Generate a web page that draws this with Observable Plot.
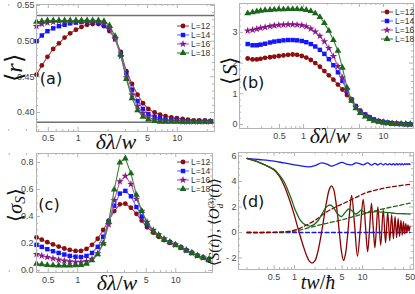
<!DOCTYPE html>
<html><head><meta charset="utf-8">
<script src="https://cdn.jsdelivr.net/npm/d3@7"></script>
<script src="https://cdn.jsdelivr.net/npm/@observablehq/plot@0.6"></script>
<style>
html,body{margin:0;padding:0;background:#fff;}
#fig{position:relative;width:415px;height:294px;overflow:hidden;background:#fff;}
.panel{position:absolute;}
.panel svg{display:block;max-width:none;}
.t{position:absolute;white-space:nowrap;line-height:1;color:#111;}
.ser{font-family:"Liberation Serif","DejaVu Serif",serif;}
.rot{transform:translate(-50%,-50%) rotate(-90deg);}
.ctr{transform:translate(-50%,-50%);}
.plab{font-family:"DejaVu Sans",sans-serif;font-size:16px;}
.leg{position:absolute;font-family:"Liberation Sans",sans-serif;font-size:8.5px;color:#333;}
.leg div{height:9px;display:flex;align-items:center;}
.leg svg{margin-right:2px;}
.br{font-family:"DejaVu Sans",sans-serif;font-weight:200;}
</style></head><body><div id="fig"></div>
<script>
// ---------- data ----------
const seriesNames = ["L=12", "L=14", "L=16", "L=18"];
const dl = [0.2,0.23,0.26,0.29,0.33,0.38,0.43,0.49,0.56,0.64,0.73,0.83,0.95,1.08,1.23,1.4,1.6,1.82,2.07,2.36,2.69,3.06,3.49,3.97,4.5,5.1,5.9,6.7,7.6,8.7,9.9,11.3,12.8,14.6,16.6,19,21.6];
const dlAC = dl.slice(5);

// (a) <r>
const rL12 = [0.453,0.466,0.478,0.489,0.497,0.505,0.511,0.516,0.520,0.523,0.524,0.524,0.521,0.514,0.503,0.485,0.458,0.440,0.425,0.413,0.405,0.400,0.397,0.395,0.393,0.392,0.391,0.390,0.389,0.389,0.389,0.388];
const rL14 = [0.500,0.508,0.514,0.518,0.521,0.523,0.525,0.526,0.527,0.527,0.527,0.526,0.523,0.516,0.503,0.482,0.455,0.432,0.416,0.405,0.398,0.394,0.392,0.390,0.389,0.389,0.388,0.388,0.388,0.388,0.388,0.388];
const rL16 = [0.521,0.524,0.526,0.527,0.528,0.528,0.528,0.528,0.528,0.528,0.528,0.527,0.525,0.518,0.503,0.479,0.449,0.425,0.409,0.399,0.393,0.390,0.389,0.388,0.388,0.388,0.387,0.387,0.387,0.387,0.387,0.387];
const rL18 = [0.527,0.528,0.529,0.529,0.529,0.529,0.529,0.529,0.529,0.529,0.529,0.529,0.528,0.522,0.507,0.481,0.447,0.420,0.403,0.394,0.390,0.388,0.387,0.387,0.387,0.387,0.387,0.387,0.387,0.387,0.387,0.387];
const rRef = [0.536, 0.3863];

// (b) <S>
const S12 = [2.15,2.12,2.12,2.14,2.17,2.19,2.21,2.23,2.25,2.27,2.28,2.27,2.23,2.18,2.1,2.0,1.88,1.74,1.6,1.46,1.3,1.14,0.96,0.78,0.6,0.45,0.33,0.24,0.17,0.12,0.09,0.06,0.045,0.03,0.02,0.015,0.01];
const S14 = [2.62,2.58,2.58,2.6,2.63,2.67,2.7,2.72,2.74,2.75,2.75,2.74,2.72,2.68,2.62,2.54,2.43,2.3,2.13,1.93,1.7,1.42,1.08,0.82,0.6,0.44,0.32,0.23,0.16,0.11,0.08,0.06,0.04,0.03,0.02,0.015,0.01];
const S16 = [3.05,3.08,3.11,3.14,3.17,3.2,3.22,3.24,3.25,3.26,3.26,3.25,3.23,3.19,3.12,3.02,2.88,2.7,2.48,2.22,1.9,1.52,1.12,0.8,0.57,0.41,0.29,0.2,0.14,0.1,0.07,0.05,0.035,0.025,0.018,0.012,0.008];
const S18 = [3.62,3.65,3.68,3.7,3.72,3.73,3.74,3.75,3.75,3.76,3.76,3.76,3.75,3.73,3.69,3.62,3.5,3.3,3.05,2.75,2.4,1.85,1.2,0.78,0.53,0.37,0.26,0.18,0.12,0.085,0.06,0.04,0.03,0.02,0.015,0.01,0.008];

// (c) <sigma_S>
const sig12 = [0.245,0.228,0.21,0.193,0.177,0.163,0.152,0.145,0.145,0.16,0.19,0.235,0.3,0.37,0.44,0.49,0.495,0.465,0.42,0.37,0.32,0.28,0.25,0.225,0.205,0.19,0.17,0.15,0.13,0.11,0.095,0.08];
const sig14 = [0.19,0.175,0.158,0.143,0.13,0.118,0.108,0.102,0.1,0.108,0.13,0.175,0.25,0.36,0.48,0.57,0.59,0.55,0.47,0.4,0.34,0.29,0.26,0.23,0.21,0.19,0.17,0.15,0.13,0.11,0.095,0.08];
const sig16 = [0.12,0.11,0.099,0.089,0.08,0.072,0.066,0.063,0.063,0.068,0.085,0.125,0.2,0.34,0.52,0.66,0.7,0.64,0.53,0.44,0.36,0.3,0.265,0.235,0.21,0.19,0.17,0.15,0.13,0.11,0.095,0.08];
const sig18 = [0.05,0.045,0.04,0.038,0.037,0.037,0.037,0.038,0.04,0.05,0.075,0.12,0.2,0.36,0.6,0.8,0.83,0.72,0.56,0.44,0.35,0.29,0.26,0.23,0.21,0.19,0.17,0.15,0.13,0.11,0.095,0.08];

// (d) time evolution
const tRed = [0.2,0.3,0.4,0.5,0.6,0.7,0.8,0.9,1.0,1.1,1.2,1.35,1.5,1.65,1.8,2.0,2.2,2.4,2.6,2.8,3.0,3.25,3.5,3.75,4.0,4.3,4.6,4.9,5.25,5.6,6.0,6.45,6.9,7.65,8.4,9.3,10.2,11.0,11.85,12.7,13.5,14.3,15.15,16.0,16.8,18.45,20.1,21.75,23.4,25.05,26.7,28.35,30,31.65,33.3,34.95,36.6,38.25,39.9,41.55,43.2,44.85,46.5,48.15,49.8];
const vRed = [5.8,5.5,5.2,4.9,4.4,3.7,2.9,2.1,1.3,0.5,-0.2,-1.1,-1.8,-2.25,-2.4,-2.2,-1.5,-0.5,0.6,1.7,2.6,3.4,3.65,3.4,2.6,1.3,-0.2,-1.5,-2.2,-1.7,-0.3,1.6,2.9,0.5,-1.85,0.4,2.6,0.6,-1.5,0.4,2.3,0.5,-1.2,0.45,2.0,-1.0,1.8,-0.8,1.6,-0.65,1.4,-0.5,1.25,-0.4,1.1,-0.3,0.95,-0.2,0.85,-0.1,0.7,0.0,0.6,0.1,0.5];
const tGreen = [0.2,0.3,0.4,0.5,0.6,0.7,0.8,0.9,1.0,1.1,1.2,1.35,1.5,1.7,1.9,2.2,2.5,2.8,3.1,3.4,3.8,4.3,4.9,5.6,6.3,7.0,7.9,8.6,9.5,10.5,11.8,13,14.5,16,18,20,25,30,40,50];
const vGreen = [5.8,5.5,5.2,4.95,4.5,4.0,3.3,2.6,1.9,1.4,1.0,0.7,0.55,0.5,0.6,0.9,1.4,1.85,2.1,2.15,1.9,1.45,1.25,1.6,1.85,1.7,1.45,1.55,1.75,1.6,1.55,1.7,1.6,1.66,1.6,1.6,1.55,1.5,1.47,1.45];
const tBlue = [0.2,0.3,0.5,0.7,1.0,1.3,1.6,2.0,2.5,3.0,3.5,4.2,5.0,5.8,6.9,8.0,9.0,10.2,11.85,13.5,15.15,16.8,18.45,20.1,21.75,23.4,25.05,26.7,28.35,30,31.65,33.3,34.95,36.6,38.25,39.9,41.55,43.2,44.85,46.5,48.15,49.8];
const vBlue = [5.8,5.72,5.6,5.45,5.3,5.2,5.15,5.25,5.45,5.35,5.2,5.35,5.5,5.35,5.3,5.45,5.4,5.3,5.45,5.28,5.42,5.3,5.42,5.3,5.4,5.3,5.4,5.3,5.4,5.3,5.4,5.3,5.4,5.3,5.4,5.3,5.4,5.32,5.4,5.32,5.4,5.33];
const tRedDash = [0.2,0.5,0.8,1.0,1.2,1.45,2,2.85,4,5.6,8,11,15,21.8,30,50];
const vRedDash = [0,0.01,0.08,0.18,0.33,0.55,0.95,1.55,2.0,2.35,2.75,3.1,3.3,3.5,3.62,3.78];
const tGreenDash = [0.2,0.5,0.8,1.0,1.45,2,2.85,5,11,20,50];
const vGreenDash = [0,0.01,0.05,0.1,0.3,0.5,0.7,1.0,1.5,1.85,2.3];
const tBlueDash = [0.2,50];
const vBlueDash = [0,0];

// ticks
const xTicksDL = [0.5,1,5,10];
const xMinorDL = [0.2,0.3,0.4,0.6,0.7,0.8,0.9,2,3,4,6,7,8,9,20];
const xTicksT = [0.5,1,5,10,50];
const xMinorT = [0.2,0.3,0.4,0.6,0.7,0.8,0.9,2,3,4,6,7,8,9,20,30,40];
const yTicksA = [0.40,0.45,0.50,0.55];
const yMinorA = [0.38,0.39,0.41,0.42,0.43,0.44,0.46,0.47,0.48,0.49,0.51,0.52,0.53,0.54];
const yTicksB = [0,1,2,3];
const yMinorB = [0.2,0.4,0.6,0.8,1.2,1.4,1.6,1.8,2.2,2.4,2.6,2.8,3.2,3.4,3.6,3.8];
const yTicksC = [0.0,0.2,0.4,0.6,0.8];
const yMinorC = [0.05,0.1,0.15,0.25,0.3,0.35,0.45,0.5,0.55,0.65,0.7,0.75,0.85];
const yTicksD = [-2,0,2,4,6];
const yMinorD = [-2.5,-1.5,-1,-0.5,0.5,1,1.5,2.5,3,3.5,4.5,5,5.5];

// ---------- styles ----------
const sty = {
  "L=12": {fill: "#8b0d0d", stroke: "#a64545", symbol: "circle", r: 2.4},
  "L=14": {fill: "#1414ff", stroke: "#6070ff", symbol: "square", r: 2.5},
  "L=16": {fill: "#8b168b", stroke: "#b060b0", symbol: "star", r: 2.4},
  "L=18": {fill: "#1a661a", stroke: "#3d803d", symbol: "triangle", r: 2.5}
};
const frameColor = "#b4b4b4";
const labelColor = "#444";
const fig = document.getElementById("fig");

function seriesMarks(xs, ys) {
  const out = [];
  seriesNames.forEach((n, i) => {
    const rows = xs.map((x, j) => ({x, y: ys[i][j]}));
    out.push(Plot.line(rows, {x: "x", y: "y", stroke: sty[n].stroke, strokeWidth: 1.1}));
    out.push(Plot.dot(rows, {x: "x", y: "y", fill: sty[n].fill, symbol: sty[n].symbol, r: sty[n].r}));
  });
  return out;
}

function curve(ts, vs, color, dashed) {
  const rows = ts.map((t, j) => ({t, v: vs[j]}));
  return Plot.line(rows, {x: "t", y: "v", stroke: color, strokeWidth: 1.3, curve: "catmull-rom",
    strokeDasharray: dashed ? "4,2.5" : null});
}

function makePanel(o) {
  const iw = o.width - o.ml - o.mr, ih = o.height - o.mt - o.mb;
  const fc = frameColor;
  const marks = [
    Plot.ruleX(o.xTicks, {x: d => d, stroke: fc, insetTop: ih - 4}),
    Plot.ruleX(o.xTicks, {x: d => d, stroke: fc, insetBottom: ih - 4}),
    Plot.ruleX(o.xMinor, {x: d => d, stroke: fc, insetTop: ih - 2}),
    Plot.ruleX(o.xMinor, {x: d => d, stroke: fc, insetBottom: ih - 2}),
    Plot.ruleY(o.yTicks, {y: d => d, stroke: fc, insetRight: iw - 4}),
    Plot.ruleY(o.yTicks, {y: d => d, stroke: fc, insetLeft: iw - 4}),
    Plot.ruleY(o.yMinor, {y: d => d, stroke: fc, insetRight: iw - 2}),
    Plot.ruleY(o.yMinor, {y: d => d, stroke: fc, insetLeft: iw - 2}),
    ...o.marks,
    Plot.frame({stroke: fc, strokeWidth: 1}),
    Plot.text(o.xTicks, {x: d => d, text: d => String(d), frameAnchor: "bottom", lineAnchor: "top",
      dy: o.xPad, fontSize: 9, fill: labelColor}),
    Plot.text(o.yTicks, {y: d => d, text: o.yFmt, frameAnchor: "left", textAnchor: "end",
      dx: -o.yPad, fontSize: 9, fill: labelColor})
  ];
  const svg = Plot.plot({
    width: o.width, height: o.height,
    marginLeft: o.ml, marginRight: o.mr, marginTop: o.mt, marginBottom: o.mb,
    x: {type: "log", domain: o.xDomain, axis: null},
    y: {domain: o.yDomain, axis: null},
    style: {background: "transparent", color: labelColor, fontFamily: "Liberation Sans, sans-serif", fontSize: "9px", overflow: "visible"},
    marks
  });
  const div = document.createElement("div");
  div.className = "panel";
  div.style.left = o.left + "px"; div.style.top = o.top + "px";
  div.appendChild(svg);
  fig.appendChild(div);
}

// (a)
makePanel({left: 0, top: 0, width: 215, height: 150, ml: 36, mr: 1, mt: 4, mb: 19,
  xDomain: [0.38, 23.7], yDomain: [0.3734, 0.5514], xTicks: xTicksDL, xMinor: xMinorDL,
  yTicks: yTicksA, yMinor: yMinorA, yFmt: d3.format(".2f"), xPad: 3, yPad: 2,
  marks: [Plot.ruleY(rRef, {stroke: "#707070", strokeWidth: 1.4}), ...seriesMarks(dlAC, [rL12, rL14, rL16, rL18])]});
// (b)
makePanel({left: 205, top: 0, width: 210, height: 150, ml: 34, mr: 2, mt: 3, mb: 22,
  xDomain: [0.158, 23.7], yDomain: [-0.13, 3.94], xTicks: xTicksDL, xMinor: xMinorDL,
  yTicks: yTicksB, yMinor: yMinorB, yFmt: d => String(d), xPad: 4, yPad: 2,
  marks: seriesMarks(dl, [S12, S14, S16, S18])});
// (c)
makePanel({left: 0, top: 145, width: 215, height: 149, ml: 36, mr: 3, mt: 8, mb: 22,
  xDomain: [0.38, 23.7], yDomain: [-0.015, 0.867], xTicks: xTicksDL, xMinor: xMinorDL,
  yTicks: yTicksC, yMinor: yMinorC, yFmt: d3.format(".1f"), xPad: 4, yPad: 3,
  marks: seriesMarks(dlAC, [sig12, sig14, sig16, sig18])});
// (d)
makePanel({left: 205, top: 145, width: 210, height: 149, ml: 33, mr: 2, mt: 7, mb: 25,
  xDomain: [0.15, 56], yDomain: [-2.9, 6.27], xTicks: xTicksT, xMinor: xMinorT,
  yTicks: yTicksD, yMinor: yMinorD, yFmt: d => d < 0 ? "- " + (-d) : String(d), xPad: 4, yPad: 2,
  marks: [
    curve(tBlueDash, vBlueDash, "#1a1aee", true),
    curve(tGreenDash, vGreenDash, "#1a6b1a", true),
    curve(tRedDash, vRedDash, "#8b0000", true),
    curve(tBlue, vBlue, "#1a1aee", false),
    curve(tRed, vRed, "#8b0000", false),
    curve(tGreen, vGreen, "#1a6b1a", false)
  ]});

// ---------- text ----------
function addText(html, cls, x, y, size) {
  const d = document.createElement("div");
  d.className = "t " + cls;
  d.style.left = x + "px"; d.style.top = y + "px"; d.style.fontSize = size + "px";
  d.innerHTML = html;
  fig.appendChild(d);
}
addText('<span class="br">⟨</span><i>r</i><span class="br">⟩</span>', "ser rot", 14, 68, 24);
addText('<span class="br">⟨</span><i>S</i><span class="br">⟩</span>', "ser rot", 230, 70, 22);
addText('<span class="br">⟨</span><i>σ</i><i style="font-size:15px;position:relative;top:3px">S</i><span class="br">⟩</span>', "ser rot", 15, 205, 20);
addText('<span class="br">⟨</span><i>S</i>(<i>t</i>)<span class="br">⟩</span>, <span class="br">⟨</span><i>O</i><span style="display:inline-block;vertical-align:middle;line-height:0.9;font-size:9px;text-align:left"><span style="display:block">(3)</span><span style="display:block"><i>d</i></span></span>(<i>t</i>)<span class="br">⟩</span>', "ser rot", 215, 222, 15);
addText('<i>δλ</i>/<i>w</i>', "ser ctr", 116, 142, 22);
addText('<i>δλ</i>/<i>w</i>', "ser ctr", 330, 136, 22);
addText('<i>δλ</i>/<i>w</i>', "ser ctr", 117, 283, 22);
addText('<i>tw</i>/<i>ħ</i>', "ser ctr", 318, 282, 20);
addText('(a)', "plab ctr", 51, 79, 16);
addText('(b)', "plab ctr", 253, 83, 16);
addText('(c)', "plab ctr", 49, 205, 16);
addText('(d)', "plab ctr", 253, 202, 16);

// ---------- legends ----------
const symbolMap = {circle: d3.symbolCircle, square: d3.symbolSquare, star: d3.symbolStar, triangle: d3.symbolTriangle};
function legend(x, y) {
  const box = document.createElement("div");
  box.className = "leg";
  box.style.left = x + "px"; box.style.top = y + "px";
  seriesNames.forEach(n => {
    const s = sty[n];
    const row = document.createElement("div");
    const path = d3.symbol(symbolMap[s.symbol], Math.PI * s.r * s.r)();
    row.innerHTML = `<svg width="12" height="8"><line x1="0" x2="12" y1="4" y2="4" stroke="${s.stroke}" stroke-width="1.1"/><path transform="translate(6,4)" d="${path}" fill="${s.fill}"/></svg><span>${n}</span>`;
    box.appendChild(row);
  });
  fig.appendChild(box);
}
legend(177, 21);
legend(381, 7);
legend(177, 157);
</script></body></html>
